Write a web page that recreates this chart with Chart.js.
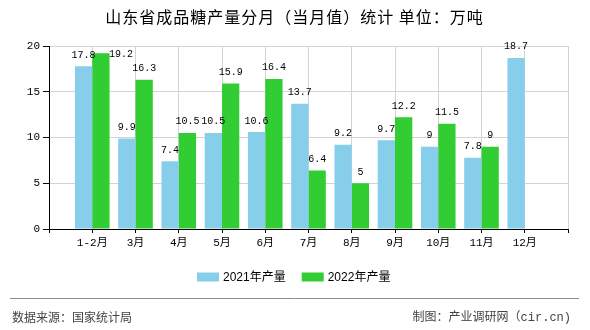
<!DOCTYPE html>
<html>
<head>
<meta charset="utf-8">
<script src="https://cdn.jsdelivr.net/npm/chart.js@4/dist/chart.umd.min.js"></script>
<style>
html,body{margin:0;padding:0;background:#fff;}
canvas{display:block;}
</style>
</head>
<body>
<canvas id="c" width="590" height="330"></canvas>
<script>
// ---- data ----
const months = ['1-2月','3月','4月','5月','6月','7月','8月','9月','10月','11月','12月'];
const prod2021 = [17.8, 9.9, 7.4, 10.5, 10.6, 13.7, 9.2, 9.7, 9, 7.8, 18.7];
const prod2022 = [19.2, 16.3, 10.5, 15.9, 16.4, 6.4, 5, 12.2, 11.5, 9, null];
const seriesNames = ['2021年产量', '2022年产量'];
const yTicks = [0, 5, 10, 15, 20];
const titleText = '山东省成品糖产量分月（当月值）统计 单位：万吨';
const sourceText = '数据来源：国家统计局';
const creditText = '制图：产业调研网（cir.cn)';

const colors = ['#87CEEB', '#32CD32'];
const monoFont = "'Liberation Mono','DejaVu Sans Mono','Noto Sans CJK SC',monospace";
const cjkFont = "'Noto Sans CJK SC','Liberation Sans',sans-serif";

// padded arrays: empty slot at each end of the category axis
const labels = [''].concat(months, ['']);
const d2021 = [null].concat(prod2021, [null]);
const d2022 = [null].concat(prod2022, [null]);

const decorPlugin = {
  id: 'decor',
  afterDatasetsDraw(chart) {
    const ctx = chart.ctx;
    const area = chart.chartArea;
    ctx.save();
    ctx.font = '10px ' + monoFont;
    ctx.fillStyle = '#000';
    ctx.textBaseline = 'alphabetic';
    chart.data.datasets.forEach((ds, di) => {
      const meta = chart.getDatasetMeta(di);
      meta.data.forEach((bar, i) => {
        const v = ds.data[i];
        if (v === null || v === undefined) return;
        const txt = String(v);
        const y = bar.y - 8.5;
        if (y - 7.5 < area.top - 8) {
          ctx.textAlign = 'left';
          ctx.fillText(txt, bar.x + bar.width / 2 - 0.5, bar.y + 4);
        } else {
          ctx.textAlign = 'center';
          ctx.fillText(txt, bar.x, y);
        }
      });
    });
    ctx.restore();
  },
  afterDraw(chart) {
    const ctx = chart.ctx;
    ctx.save();
    // title
    ctx.font = '16px ' + cjkFont;
    if ('letterSpacing' in ctx) ctx.letterSpacing = '1px';
    ctx.fillStyle = '#000';
    ctx.textAlign = 'center';
    ctx.textBaseline = 'middle';
    ctx.fillText(titleText, 294.5, 17);
    if ('letterSpacing' in ctx) ctx.letterSpacing = '0px';
    // legend
    ctx.font = '12px ' + "'Liberation Sans','Noto Sans CJK SC',sans-serif";
    ctx.textAlign = 'left';
    let x = 197;
    seriesNames.forEach((name, i) => {
      ctx.fillStyle = colors[i];
      ctx.fillRect(x, 272.5, 22, 9);
      ctx.fillStyle = '#000';
      ctx.fillText(name, x + 26, 277.5);
      x += 26 + ctx.measureText(name).width + 16;
    });
    // footer line
    ctx.strokeStyle = '#8c8c8c';
    ctx.lineWidth = 1;
    ctx.beginPath();
    ctx.moveTo(10, 298.5);
    ctx.lineTo(579, 298.5);
    ctx.stroke();
    // footer texts
    ctx.fillStyle = '#444';
    ctx.font = '12px ' + cjkFont;
    ctx.textAlign = 'left';
    ctx.fillText(sourceText, 12, 317.5);
    ctx.font = '12px ' + monoFont;
    ctx.textAlign = 'right';
    ctx.fillText(creditText, 571, 317.5);
    ctx.restore();
  }
};

new Chart(document.getElementById('c'), {
  type: 'bar',
  data: {
    labels: labels,
    datasets: [
      { label: seriesNames[0], data: d2021, backgroundColor: colors[0], borderWidth: 0,
        categoryPercentage: 0.8, barPercentage: 1.0 },
      { label: seriesNames[1], data: d2022, backgroundColor: colors[1], borderWidth: 0,
        categoryPercentage: 0.8, barPercentage: 1.0 }
    ]
  },
  options: {
    responsive: false,
    animation: false,
    layout: { padding: { left: 0, right: 22, top: 46, bottom: 71 } },
    plugins: {
      legend: { display: false },
      title: { display: false },
      tooltip: { enabled: false }
    },
    scales: {
      x: {
        type: 'category',
        offset: false,
        grid: { offset: false, color: '#d3d3d3', tickColor: '#000', tickLength: 4, lineWidth: 1 },
        border: { color: '#000', width: 1 },
        ticks: { autoSkip: false, maxRotation: 0, minRotation: 0, padding: 3, color: '#000',
          font: { family: monoFont, size: 11 } },
        afterFit(scale) { scale.height = 30; }
      },
      y: {
        min: 0, max: 20,
        afterBuildTicks(scale) { scale.ticks = yTicks.map(v => ({ value: v })); },
        grid: { color: '#d3d3d3', tickColor: '#000', tickLength: 6, lineWidth: 1 },
        border: { color: '#000', width: 1 },
        ticks: { padding: 3, color: '#000', font: { family: monoFont, size: 11 } },
        afterFit(scale) { scale.width = 49; }
      }
    }
  },
  plugins: [decorPlugin]
});
</script>
</body>
</html>
